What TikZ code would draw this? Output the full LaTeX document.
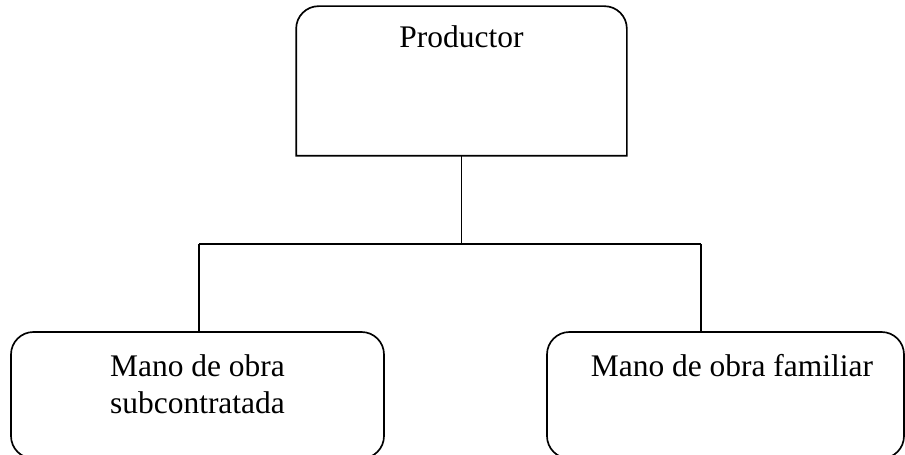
\documentclass[tikz,border=0pt]{standalone}
\usepackage{fontspec}
\setmainfont{Liberation Serif}
\begin{document}
\begin{tikzpicture}[line width=0.95pt]
	\tikzstyle{caja}=[inner sep=0pt, anchor=base, font=\fontsize{17.9}{20.5}\selectfont]
	\tikzstyle{redonda}=[caja, draw, rounded corners=0.45cm]
	\useasboundingbox (0,0) rectangle (18.1,9.1);
	
	% Caja de arriba: solo esquinas superiores redondeadas
	\node[caja, minimum width=6.58cm, text height=0.82cm, text depth=2.14cm] (prod) at (9.23,8.14) {Productor};
	\draw[rounded corners=0.45cm] (prod.south west) -- (prod.north west) -- (prod.north east) [sharp corners] -- (prod.south east) -- cycle;
	
	% Cajas de abajo (el borde inferior queda cortado)
	\node[redonda, minimum width=7.46cm, text height=0.9cm, text depth=1.63cm] (sub) at (3.95,1.56)
		{\begin{tabular}[t]{@{}c@{}}Mano de obra\\subcontratada\end{tabular}};
	\node[redonda, minimum width=7.14cm, text height=0.9cm, text depth=1.63cm] (fam) at (14.51,1.56) {\hspace*{0.26cm}Mano de obra familiar};
	
	% Conexiones
	\coordinate (jl) at (3.98,4.22);
	\coordinate (jr) at (14.02,4.22);
	\draw (prod.south) -- (prod.south |- jl);
	\draw (jl) -- (jr);
	\draw (jl) -- (jl |- sub.north);
	\draw (jr) -- (jr |- fam.north);
	
\end{tikzpicture}
\end{document}
